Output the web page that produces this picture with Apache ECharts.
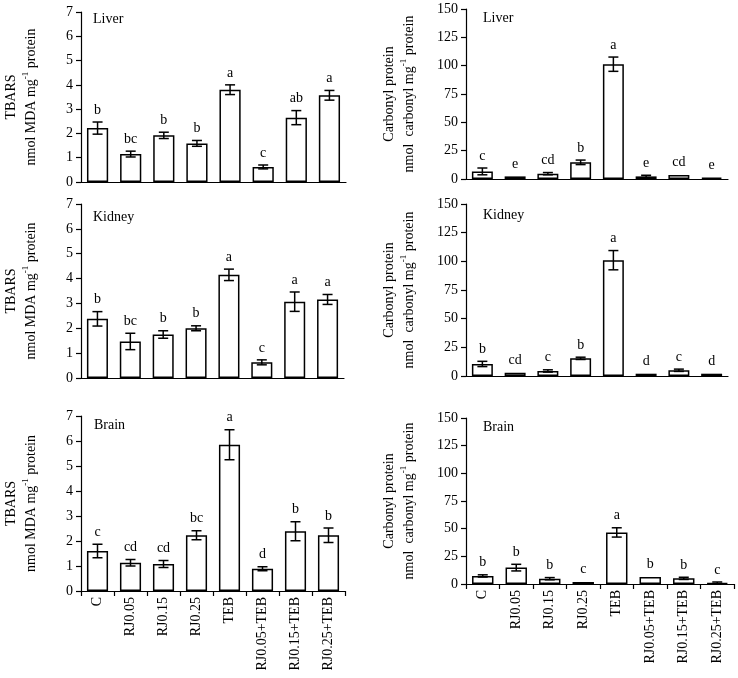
<!DOCTYPE html>
<html>
<head>
<meta charset="utf-8">
<script src="https://cdn.jsdelivr.net/npm/echarts@6/dist/echarts.min.js"></script>
<style>
  html, body { margin: 0; padding: 0; background: #fff; }
  #container { width: 738px; height: 678px; }
</style>
</head>
<body>
<div id="container"></div>
<script>
var dom = document.getElementById("container");
var chart = echarts.init(dom);

const categories = ["C", "RJ0.05", "RJ0.15", "RJ0.25", "TEB", "RJ0.05+TEB", "RJ0.15+TEB", "RJ0.25+TEB"];

// TBARS (nmol MDA mg-1 protein)
const tbarsLiver = [2.22, 1.15, 1.92, 1.59, 3.80, 0.62, 2.65, 3.57];
const tbarsLiverErr = [0.25, 0.12, 0.13, 0.12, 0.20, 0.08, 0.29, 0.20];
const tbarsLiverLetters = ["b", "bc", "b", "b", "a", "c", "ab", "a"];

const tbarsKidney = [2.38, 1.47, 1.75, 2.00, 4.15, 0.63, 3.07, 3.16];
const tbarsKidneyErr = [0.29, 0.33, 0.15, 0.10, 0.23, 0.10, 0.39, 0.20];
const tbarsKidneyLetters = ["b", "bc", "b", "b", "a", "c", "a", "a"];

const tbarsBrain = [1.60, 1.13, 1.08, 2.23, 5.85, 0.89, 2.39, 2.23];
const tbarsBrainErr = [0.27, 0.13, 0.14, 0.18, 0.60, 0.08, 0.38, 0.29];
const tbarsBrainLetters = ["c", "cd", "cd", "bc", "a", "d", "b", "b"];

// Carbonyl protein (nmol carbonyl mg-1 protein)
const carbLiver = [6.7, 2.3, 4.7, 14.7, 101.3, 2.3, 3.5, 1.2];
const carbLiverErr = [3.0, 0.3, 1.0, 2.0, 6.3, 1.0, 0.3, 0.5];
const carbLiverLetters = ["c", "e", "cd", "b", "a", "e", "cd", "e"];

const carbKidney = [10.5, 2.9, 4.4, 15.4, 101.0, 2.0, 5.0, 2.0];
const carbKidneyErr = [2.3, 0.3, 1.0, 1.0, 8.4, 0.3, 1.0, 0.3];
const carbKidneyLetters = ["b", "cd", "c", "b", "a", "d", "c", "d"];

const carbBrain = [7.3, 14.8, 4.8, 1.8, 46.6, 6.4, 5.1, 1.0];
const carbBrainErr = [1.0, 3.0, 1.0, 0.3, 4.2, 0.3, 1.0, 0.8];
const carbBrainLetters = ["b", "b", "b", "c", "a", "b", "b", "c"];

const FONT = "Liberation Serif";

var panels = [
    { name: "Liver", vals: tbarsLiver, err: tbarsLiverErr, letters: tbarsLiverLetters, kind: "tbars",
      grid: { left: 76, width: 270, top: 12, height: 170 }, titleTop: 12, bottom: false },
    { name: "Liver", vals: carbLiver, err: carbLiverErr, letters: carbLiverLetters, kind: "carb",
      grid: { left: 466, width: 262, top: 9, height: 170 }, titleTop: 11, bottom: false },
    { name: "Kidney", vals: tbarsKidney, err: tbarsKidneyErr, letters: tbarsKidneyLetters, kind: "tbars",
      grid: { left: 76, width: 268, top: 204, height: 174 }, titleTop: 210, bottom: false },
    { name: "Kidney", vals: carbKidney, err: carbKidneyErr, letters: carbKidneyLetters, kind: "carb",
      grid: { left: 466, width: 262, top: 204, height: 172 }, titleTop: 208, bottom: false },
    { name: "Brain", vals: tbarsBrain, err: tbarsBrainErr, letters: tbarsBrainLetters, kind: "tbars",
      grid: { left: 77, width: 268, top: 416, height: 175 }, titleTop: 418, bottom: true },
    { name: "Brain", vals: carbBrain, err: carbBrainErr, letters: carbBrainLetters, kind: "carb",
      grid: { left: 466, width: 268, top: 418, height: 166 }, titleTop: 420, bottom: true }
];

var grids = [], xAxes = [], yAxes = [], series = [], titles = [];

panels.forEach(function (p, i) {
    grids.push(p.grid);

    titles.push({
        text: p.name,
        left: p.grid.left + 17,
        top: p.titleTop,
        padding: 0,
        textStyle: { fontFamily: FONT, fontSize: 14, fontWeight: "normal", color: "#000" }
    });

    xAxes.push({
        type: "category",
        gridIndex: i,
        data: categories,
        axisLine: { lineStyle: { color: "#000", width: 1.2 } },
        axisTick: { show: p.bottom, length: 5, lineStyle: { color: "#000", width: 1.2 } },
        axisLabel: {
            show: p.bottom,
            rotate: 90,
            interval: 0,
            margin: 6,
            fontFamily: FONT,
            fontSize: 14,
            color: "#000"
        }
    });

    var tb = p.kind === "tbars";
    yAxes.push({
        type: "value",
        gridIndex: i,
        min: 0,
        max: tb ? 7 : 150,
        interval: tb ? 1 : 25,
        splitLine: { show: false },
        axisLine: { show: true, lineStyle: { color: "#000", width: 1.2 } },
        axisTick: { show: true, length: 5, lineStyle: { color: "#000", width: 1.2 } },
        axisLabel: { fontFamily: FONT, fontSize: 14, color: "#000", margin: 8 },
        name: tb
            ? "{t|TBARS}\n{t|nmol MDA mg}{s|-1}{t| protein}"
            : "{t|Carbonyl protein}\n{t|nmol  carbonyl mg}{s|-1}{t| protein}",
        nameLocation: "middle",
        nameRotate: 90,
        nameGap: tb ? 40 : 47,
        nameTextStyle: {
            fontFamily: FONT,
            lineHeight: 20,
            color: "#000",
            rich: {
                t: { fontFamily: FONT, fontSize: 14, color: "#000" },
                s: { fontFamily: FONT, fontSize: 9, color: "#000", verticalAlign: "top", padding: [0, 0, 8, 0] }
            }
        }
    });

    series.push({
        type: "bar",
        xAxisIndex: i,
        yAxisIndex: i,
        data: p.vals,
        barWidth: "64%",
        itemStyle: { color: "#fff", borderColor: "#000", borderWidth: 1.5 },
        silent: true,
        z: 2
    });

    series.push({
        type: "custom",
        xAxisIndex: i,
        yAxisIndex: i,
        z: 3,
        silent: true,
        data: p.vals.map(function (v, k) { return [k, v, p.err[k]]; }),
        renderItem: function (params, api) {
            var k = api.value(0), v = api.value(1), e = api.value(2);
            var hi = api.coord([k, v + e]);
            var lo = api.coord([k, v - e]);
            var cap = 5;
            var ch = [];
            if (e > 0.5 * (tb ? 0.05 : 1)) {
                ch.push({ type: "line", shape: { x1: hi[0], y1: hi[1], x2: lo[0], y2: lo[1] },
                          style: { stroke: "#000", lineWidth: 1.5 } });
                ch.push({ type: "line", shape: { x1: hi[0] - cap, y1: hi[1], x2: hi[0] + cap, y2: hi[1] },
                          style: { stroke: "#000", lineWidth: 1.5 } });
                ch.push({ type: "line", shape: { x1: lo[0] - cap, y1: lo[1], x2: lo[0] + cap, y2: lo[1] },
                          style: { stroke: "#000", lineWidth: 1.5 } });
            }
            ch.push({
                type: "text",
                style: {
                    text: p.letters[params.dataIndex],
                    x: hi[0],
                    y: hi[1] - 5,
                    align: "center",
                    verticalAlign: "bottom",
                    fontFamily: FONT,
                    fontSize: 14,
                    fill: "#000"
                }
            });
            return { type: "group", children: ch };
        }
    });
});

var option = {
    backgroundColor: "#fff",
    animation: false,
    title: titles,
    grid: grids,
    xAxis: xAxes,
    yAxis: yAxes,
    series: series
};

chart.setOption(option);
</script>
</body>
</html>
